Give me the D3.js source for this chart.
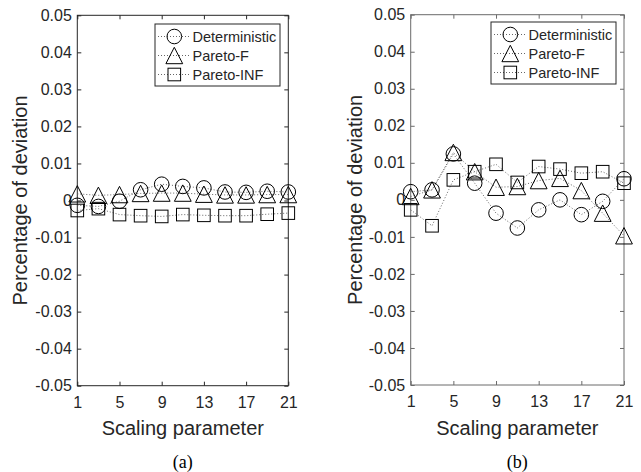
<!DOCTYPE html>
<html>
<head>
<meta charset="utf-8">
<script src="https://cdn.jsdelivr.net/npm/d3@7/dist/d3.min.js"></script>
<style>
  html, body { margin: 0; padding: 0; background: #fff; }
  svg { display: block; }
  text { font-family: "Liberation Sans", Arial, Helvetica, sans-serif; }
</style>
</head>
<body>
<svg id="chart" width="641" height="472"></svg>
<script>
// ---- data ----
const xValues = [1, 3, 5, 7, 9, 11, 13, 15, 17, 19, 21];
const xTickValues = [1, 5, 9, 13, 17, 21];
const yTickValues = [0.05, 0.04, 0.03, 0.02, 0.01, 0, -0.01, -0.02, -0.03, -0.04, -0.05];
const seriesNames = ["Deterministic", "Pareto-F", "Pareto-INF"];
const seriesMarkers = ["circle", "triangle", "square"];
const panelLabels = ["(a)", "(b)"];

// panel (a)
const aDeterministic = [-0.0013, -0.0016, -0.0002, 0.0029, 0.0044, 0.0038, 0.0034, 0.0023, 0.0022, 0.0025, 0.0023];
const aParetoF       = [0.0018, 0.0014, 0.0016, 0.0019, 0.0020, 0.0020, 0.0017, 0.0015, 0.0015, 0.0016, 0.0016];
const aParetoINF     = [-0.0027, -0.0022, -0.0038, -0.0041, -0.0043, -0.0038, -0.0040, -0.0041, -0.0041, -0.0037, -0.0034];

// panel (b)
const bDeterministic = [0.0022, 0.0027, 0.0124, 0.0045, -0.0036, -0.0076, -0.0027, 0.0000, -0.0040, -0.0004, 0.0057];
const bParetoF       = [0.0009, 0.0027, 0.0128, 0.0076, 0.0034, 0.0036, 0.0052, 0.0058, 0.0025, -0.0036, -0.0097];
const bParetoINF     = [-0.0027, -0.0070, 0.0054, 0.0076, 0.0096, 0.0047, 0.0090, 0.0083, 0.0072, 0.0076, 0.0045];

const yLabel = "Percentage of deviation";
const xLabel = "Scaling parameter";

// ---- layout ----
const panels = [
  { box: { left: 77.3, right: 288.3, top: 15.3, bottom: 385.7 }, series: [aDeterministic, aParetoF, aParetoINF],
    axisColor: "#262626", legend: { left: 155, top: 24, width: 125, height: 62 }, yLabelX: 27, label: panelLabels[0] },
  { box: { left: 410.7, right: 624, top: 14.7, bottom: 385 }, series: [bDeterministic, bParetoF, bParetoINF],
    axisColor: "#6a6a6a", legend: { left: 491, top: 22, width: 125, height: 62 }, yLabelX: 362, label: panelLabels[1] }
];

const svg = d3.select("#chart");
const textColor = "#262626";

function drawMarker(g, type, cx, cy) {
  const st = (sel) => sel.attr("fill", "none").attr("stroke", "#000").attr("stroke-width", 1);
  if (type === "circle") {
    st(g.append("circle").attr("cx", cx).attr("cy", cy).attr("r", 7.3));
  } else if (type === "triangle") {
    const w = 8.4, h = 8.2;
    st(g.append("path").attr("d", `M${cx},${cy - h}L${cx + w},${cy + h}L${cx - w},${cy + h}Z`));
  } else {
    const s = 6.3;
    st(g.append("rect").attr("x", cx - s).attr("y", cy - s).attr("width", 2 * s).attr("height", 2 * s));
  }
}

panels.forEach((p) => {
  const b = p.box;
  const x = d3.scaleLinear().domain([1, 21]).range([b.left, b.right]);
  const y = d3.scaleLinear().domain([-0.05, 0.05]).range([b.bottom, b.top]);
  const g = svg.append("g");

  // box
  g.append("rect").attr("x", b.left).attr("y", b.top)
    .attr("width", b.right - b.left).attr("height", b.bottom - b.top)
    .attr("fill", "none").attr("stroke", p.axisColor).attr("stroke-width", 1);

  // axes (ticks inward)
  const tl = 4;
  const fmtY = (d) => d === 0 ? "0" : d3.format(".2f")(d).replace("−", "-");
  const bottomAxis = d3.axisBottom(x).tickValues(xTickValues).tickSize(-tl).tickPadding(11).tickFormat(d3.format("d"));
  const leftAxis = d3.axisLeft(y).tickValues(yTickValues).tickSize(-tl).tickPadding(5.5).tickFormat(fmtY);
  const topAxis = d3.axisTop(x).tickValues(xTickValues).tickSize(-tl).tickFormat("");
  const rightAxis = d3.axisRight(y).tickValues(yTickValues).tickSize(-tl).tickFormat("");

  const ax = [
    g.append("g").attr("transform", `translate(0,${b.bottom})`).call(bottomAxis),
    g.append("g").attr("transform", `translate(${b.left},0)`).call(leftAxis),
    g.append("g").attr("transform", `translate(0,${b.top})`).call(topAxis),
    g.append("g").attr("transform", `translate(${b.right},0)`).call(rightAxis)
  ];
  ax.forEach(a => {
    a.select(".domain").remove();
    a.selectAll(".tick line").attr("stroke", p.axisColor);
    a.selectAll(".tick text").attr("fill", textColor)
      .style("font-family", '"Liberation Sans", Arial, sans-serif').style("font-size", "16px");
  });

  // series: lines then markers
  const line = d3.line().x((d, i) => x(xValues[i])).y(d => y(d));
  p.series.forEach((vals, si) => {
    g.append("path").datum(vals).attr("d", line)
      .attr("fill", "none").attr("stroke", "#555").attr("stroke-width", 0.9)
      .attr("stroke-dasharray", "1,2");
  });
  p.series.forEach((vals, si) => {
    const mg = g.append("g");
    vals.forEach((v, i) => drawMarker(mg, seriesMarkers[si], x(xValues[i]), y(v)));
  });

  // legend
  const L = p.legend;
  const lg = g.append("g");
  lg.append("rect").attr("x", L.left).attr("y", L.top).attr("width", L.width).attr("height", L.height)
    .attr("fill", "#fff").attr("stroke", textColor).attr("stroke-width", 1);
  seriesNames.forEach((name, i) => {
    const cy = L.top + 12.5 + i * 19;
    lg.append("line").attr("x1", L.left + 3).attr("x2", L.left + 35).attr("y1", cy).attr("y2", cy)
      .attr("stroke", "#555").attr("stroke-width", 0.9).attr("stroke-dasharray", "1,2");
    drawMarker(lg, seriesMarkers[i], L.left + 19.3, cy);
    lg.append("text").attr("x", L.left + 37.5).attr("y", cy).attr("dy", "0.36em")
      .attr("fill", textColor).style("font-size", "14.5px").text(name);
  });

  // axis labels
  g.append("text").attr("x", (b.left + b.right) / 2).attr("y", 435)
    .attr("text-anchor", "middle").attr("fill", textColor).style("font-size", "20px").text(xLabel);
  g.append("text").attr("transform", `translate(${p.yLabelX},${(b.top + b.bottom) / 2}) rotate(-90)`)
    .attr("text-anchor", "middle").attr("fill", textColor).style("font-size", "20px").text(yLabel);

  // panel label
  g.append("text").attr("x", (b.left + b.right) / 2).attr("y", 468)
    .attr("text-anchor", "middle").attr("fill", "#000")
    .style("font-family", '"Liberation Serif", "Times New Roman", serif').style("font-size", "18px").text(p.label);
});
</script>
</body>
</html>
